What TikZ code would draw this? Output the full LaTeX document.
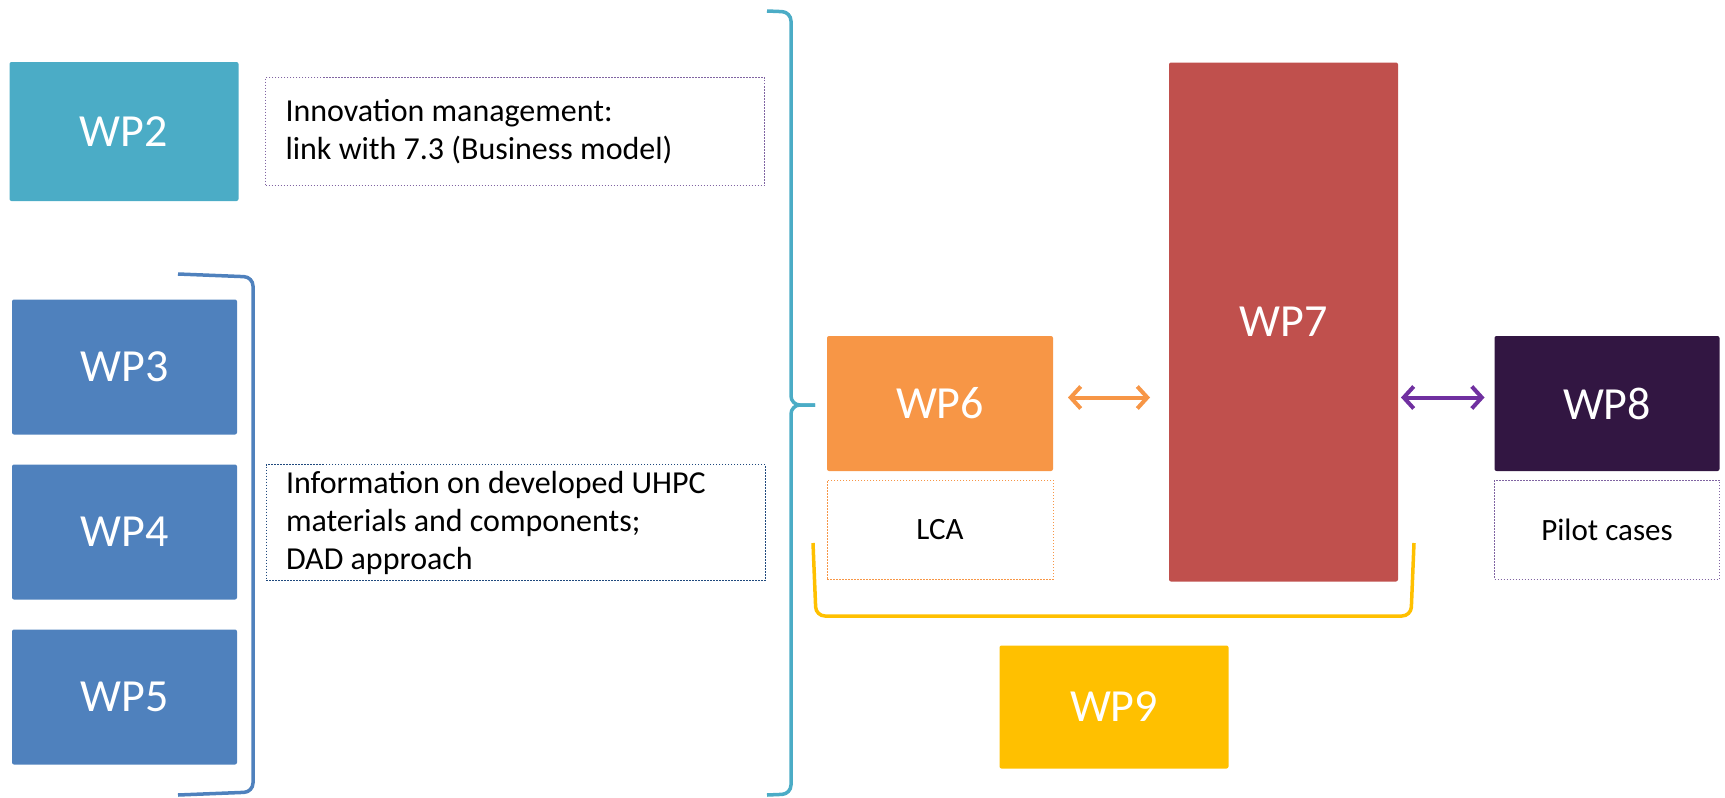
\documentclass[tikz,border=0pt]{standalone}
\usepackage{fontspec}
\setmainfont{Carlito}
\usepackage{xcolor}
\usetikzlibrary{positioning,arrows.meta}
\tikzset{>={Straight Barb[length=10pt,width=22pt]}}
\definecolor{wpteal}{HTML}{4BACC6}
\definecolor{wpblue}{HTML}{4F81BD}
\definecolor{wporange}{HTML}{F79646}
\definecolor{wpred}{HTML}{C0504D}
\definecolor{wpplum}{HTML}{321642}
\definecolor{wpyellow}{HTML}{FFC000}
\definecolor{wpviolet}{HTML}{7030A0}
\definecolor{notelilac}{HTML}{8064A2}
\definecolor{notenavy}{HTML}{1F497D}

\begin{document}
\begin{tikzpicture}[x=1pt, y=-1pt,
wpnode/.style={rectangle, align=center, text=white, inner sep=0pt, outer sep=0pt, rounded corners=2pt, minimum width=229pt, minimum height=135pt, font=\fontsize{46}{55}\selectfont},
notenode/.style={rectangle, align=flush left, draw, line width=1pt, dash pattern=on 1.5pt off 1.5pt, inner xsep=20pt, inner ysep=0pt, outer sep=0pt, text width=459pt, font=\fontsize{32}{38}\selectfont},
tagnode/.style={rectangle, align=center, draw, line width=1pt, dash pattern=on 1.5pt off 1.5pt, inner sep=0pt, outer sep=0pt, minimum width=226pt, minimum height=99pt, font=\fontsize{31}{38}\selectfont},
bracket/.style={line width=3.5pt, rounded corners=9pt},
link/.style={<->, line width=4pt},
]
\useasboundingbox (0,0) rectangle (1725,798);

%Nodes
\node[wpnode, fill=wpteal, minimum height=139pt](WP2) at (124,131.5){WP2};
\node[notenode, draw=notelilac, minimum height=108pt](Innovation)[right=27pt of WP2]{Innovation management:\\link with 7.3 (Business model)};
\node[wpnode, fill=wpblue, minimum width=225pt](WP3) at (124.5,367){WP3};
\node[wpnode, fill=wpblue, minimum width=225pt](WP4)[below=30pt of WP3]{WP4};
\node[wpnode, fill=wpblue, minimum width=225pt](WP5)[below=30pt of WP4]{WP5};
\node[notenode, draw=notenavy, minimum height=116pt](Information) at (515.5,522.5){Information on developed UHPC\\materials and components;\\DAD approach};
\node[wpnode, fill=wporange, minimum width=226pt](WP6) at (940,403.5){WP6};
\node[tagnode, draw=wporange](LCA)[below=9pt of WP6]{LCA};
\node[wpnode, fill=wpred, minimum height=519pt](WP7) at (1283.5,322){WP7};
\node[wpnode, fill=wpplum, minimum width=225pt](WP8) at (1607,403.5){WP8};
\node[tagnode, draw=notelilac, minimum width=225pt](Pilot)[below=9pt of WP8]{Pilot cases};
\node[wpnode, fill=wpyellow, minimum height=123pt](WP9) at (1114,707){WP9};

%Brackets
\draw[bracket, wpblue] (178,274) -- (253,277) -- (253,792) -- (178,795);
\draw[bracket, wpteal] (767,11) -- (791,12) -- (791,405) -- (815,405);
\draw[bracket, wpteal] (815,405) -- (791,405) -- (791,794) -- (767,795);
\draw[bracket, wpyellow] (813,543) -- (816,616) -- (1411,616) -- (1414,543);

%Lines
\draw[link, wporange, shorten <=15pt, shorten >=19pt] ([yshift=6pt]WP6.east) -- ([yshift=6pt]WP6.east -| WP7.west);
\draw[link, wpviolet, shorten <=3pt, shorten >=10pt] ([yshift=6pt]WP8.west -| WP7.east) -- ([yshift=6pt]WP8.west);
\end{tikzpicture}
\end{document}
